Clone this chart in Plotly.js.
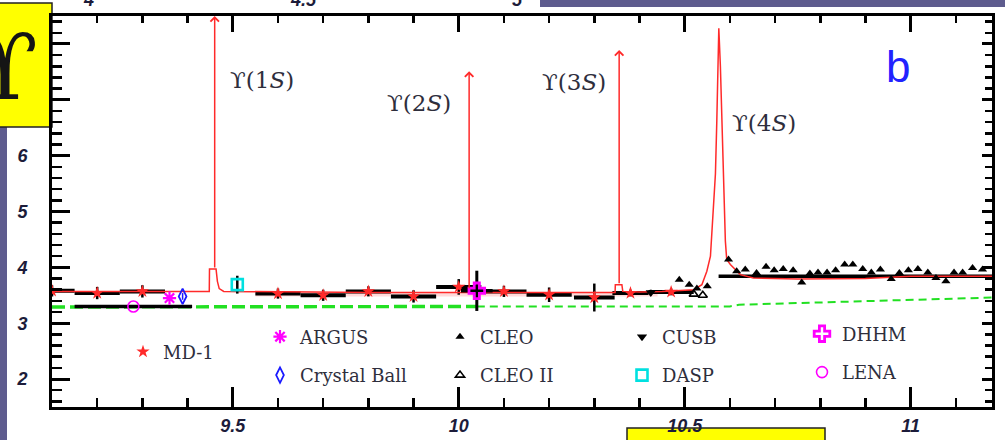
<!DOCTYPE html>
<html>
<head>
<meta charset="utf-8">
<script src="https://cdn.plot.ly/plotly-3.0.1.min.js"></script>
<style>
  html, body { margin: 0; padding: 0; background: #ffffff; }
  #chart { width: 1005px; height: 440px; }
</style>
</head>
<body>
<div id="chart"></div>
<script>
// R = sigma(e+e- -> hadrons) / sigma(mu+mu-) around the Upsilon region, sqrt(s) in GeV

// theory curve (red)
const theoryE = [9.10, 9.30, 9.44, 9.448, 9.4485, 9.463, 9.466, 9.470, 9.48, 9.60, 9.80, 10.00, 10.10, 10.30,
  10.346, 10.3465, 10.361, 10.363, 10.40, 10.45, 10.49, 10.52, 10.538, 10.549, 10.557, 10.564, 10.568, 10.571,
  10.5755, 10.579, 10.583, 10.586, 10.590, 10.593, 10.601, 10.623, 10.652, 10.75, 10.90, 11.00, 11.18];
const theoryR = [3.57, 3.57, 3.57, 3.57, 3.97, 3.97, 3.75, 3.62, 3.57, 3.56, 3.55, 3.55, 3.55, 3.55,
  3.55, 3.69, 3.69, 3.57, 3.56, 3.57, 3.58, 3.60, 3.69, 3.93, 4.20, 5.07, 5.67, 6.60,
  8.28, 7.60, 6.30, 5.37, 4.47, 4.14, 4.05, 3.87, 3.81, 3.79, 3.80, 3.84, 3.84];

// narrow resonances drawn as arrows
const upsilonMass = [9.460, 10.023, 10.355];
const upsilonBaseR = [3.97, 3.60, 3.69];
const upsilonTipR = [8.5, 7.51, 7.89];

// perturbative QCD (green dashed)
const pqcdE1 = [9.10, 10.04];
const pqcdR1 = [3.29, 3.30];
const pqcdE2 = [10.04, 10.60, 10.62, 10.90, 11.18];
const pqcdR2 = [3.30, 3.30, 3.33, 3.40, 3.46];

// theory band between 1S and 4S
const bandE = [9.55, 10.44];
const bandLo = [3.48, 3.48];
const bandHi = [3.55, 3.55];

// MD-1 scan points with bin half-widths
const md1E = [9.10, 9.20, 9.30, 9.60, 9.70, 9.80, 9.90, 10.00, 10.10, 10.20, 10.30, 10.38, 10.47];
const md1R = [3.58, 3.54, 3.57, 3.53, 3.50, 3.57, 3.48, 3.65, 3.57, 3.51, 3.46, 3.54, 3.56];
const md1Err = [0.10, 0.11, 0.11, 0.09, 0.10, 0.09, 0.11, 0.14, 0.10, 0.13, 0.25, 0.06, 0.06];
const md1Half = [0.05, 0.05, 0.05, 0.05, 0.05, 0.05, 0.05, 0.05, 0.05, 0.05, 0.045, 0.04, 0.05];

const argusE = [9.36];
const argusR = [3.45];
const cbE = [9.389];
const cbR = [3.48];
const cbErr = [0.06];
const lenaE = [9.28];
const lenaR = [3.30];
const lenaHalf = [0.13];
const daspE = [9.51];
const daspR = [3.69];
const daspErr = [0.16];
const dhhmE = [10.04];
const dhhmR = [3.58];
const dhhmErr = [0.36];
const dhhmHalf = [0.035];
const cusbE = [10.425];
const cusbR = [3.55];
const cusbErr = [0.05];
const cleo2E = [10.52, 10.54];
const cleo2R = [3.52, 3.50];
const cleoE = [10.488, 10.51, 10.527, 10.55, 10.597, 10.615, 10.634, 10.659, 10.680, 10.698, 10.718, 10.740,
  10.759, 10.777, 10.795, 10.815, 10.834, 10.854, 10.872, 10.894, 10.913, 10.933, 10.957, 10.975, 10.995,
  11.016, 11.038, 11.056, 11.078, 11.096, 11.115, 11.137, 11.159];
const cleoR = [3.78, 3.69, 3.62, 3.66, 4.14, 3.93, 3.96, 3.90, 4.01, 3.95, 3.97, 3.95,
  3.73, 3.89, 3.91, 3.91, 3.95, 4.05, 4.05, 3.97, 3.91, 3.96, 3.79, 3.90, 3.95,
  3.97, 3.91, 3.81, 3.75, 3.91, 3.91, 3.99, 3.96];
// continuum level above the 4S
const contE = [10.575, 11.18];
const contR = [3.84, 3.84];

const xRange = [9.1, 11.18];
const yRange = [1.5, 8.5];

// pixel helpers for decorations around the frame
const L = 52, T = 16, W = 940, H = 391;
const px = p => (p - L) / W;
const py = p => (T + H - p) / H;

const RED = '#ff2a2a';
const GREEN = '#22e022';
const MAG = '#ff00ff';
const TXT = '#2e2e3c';

const traces = [
  { x: pqcdE1, y: pqcdR1, mode: 'lines', line: { color: GREEN, width: 3.4, dash: '13px,5px' }, showlegend: false, hoverinfo: 'skip' },
  { x: pqcdE2, y: pqcdR2, mode: 'lines', line: { color: GREEN, width: 2, dash: '8px,5px' }, showlegend: false, hoverinfo: 'skip' },
  { x: bandE, y: bandLo, mode: 'lines', line: { width: 0 }, showlegend: false, hoverinfo: 'skip' },
  { x: bandE, y: bandHi, mode: 'lines', line: { width: 0 }, fill: 'tonexty', fillcolor: 'rgba(255,90,90,0.22)', showlegend: false, hoverinfo: 'skip' },
  { x: contE, y: contR, mode: 'lines', line: { color: '#000', width: 3.5 }, showlegend: false, hoverinfo: 'skip' },
  { x: lenaE, y: lenaR, mode: 'markers', name: 'LENA', legend: 'legend5', legendgroup: 'lena', legendrank: 2,
    marker: { symbol: 'circle-open', size: 11, color: MAG, line: { color: MAG, width: 1.6 } },
    error_x: { type: 'data', array: lenaHalf, color: '#000', thickness: 3.5, width: 0 } },
  { x: md1E, y: md1R, mode: 'markers', name: 'MD-1', legend: 'legend', legendgroup: 'md1',
    marker: { symbol: 'star', size: 10, color: RED },
    error_x: { type: 'data', array: md1Half, color: '#000', thickness: 4, width: 0 },
    error_y: { type: 'data', array: md1Err, color: '#000', thickness: 2.5, width: 0 } },
  { x: theoryE, y: theoryR, mode: 'lines', line: { color: RED, width: 1.5 }, showlegend: false, hoverinfo: 'skip' },
  { x: argusE, y: argusR, mode: 'markers', name: 'ARGUS', legend: 'legend2', legendgroup: 'argus', legendrank: 1,
    marker: { symbol: 'asterisk-open', size: 11, color: MAG, line: { color: MAG, width: 2.2 } } },
  { x: cbE, y: cbR, mode: 'markers', name: 'Crystal Ball', legend: 'legend2', legendgroup: 'cb', legendrank: 2,
    marker: { symbol: 'diamond-tall-open', size: 11, color: '#1a1aff', line: { color: '#1a1aff', width: 1.8 } },
    error_y: { type: 'data', array: cbErr, color: '#1a1aff', thickness: 1.5, width: 0 } },
  { x: cleoE, y: cleoR, mode: 'markers', name: 'CLEO', legend: 'legend3', legendgroup: 'cleo', legendrank: 1,
    marker: { symbol: 'triangle-up', size: 8, color: '#000' } },
  { x: cleo2E, y: cleo2R, mode: 'markers', name: 'CLEO II', legend: 'legend3', legendgroup: 'cleo2', legendrank: 2,
    marker: { symbol: 'triangle-up-open', size: 8, color: '#000', line: { color: '#000', width: 1.6 } } },
  { x: cusbE, y: cusbR, mode: 'markers', name: 'CUSB', legend: 'legend4', legendgroup: 'cusb', legendrank: 1,
    marker: { symbol: 'triangle-down', size: 9, color: '#000' },
    error_y: { type: 'data', array: cusbErr, color: '#000', thickness: 2, width: 0 } },
  { x: daspE, y: daspR, mode: 'markers', name: 'DASP', legend: 'legend4', legendgroup: 'dasp', legendrank: 2,
    marker: { symbol: 'square-open', size: 11, color: '#00e0e0', line: { color: '#00e0e0', width: 2.6 } },
    error_y: { type: 'data', array: daspErr, color: '#000', thickness: 2.5, width: 0 } },
  { x: dhhmE, y: dhhmR, mode: 'markers', name: 'DHHM', legend: 'legend5', legendgroup: 'dhhm', legendrank: 1,
    marker: { symbol: 'cross-open', size: 13, color: MAG, line: { color: MAG, width: 2.8 } },
    error_x: { type: 'data', array: dhhmHalf, color: '#000', thickness: 3.5, width: 0 },
    error_y: { type: 'data', array: dhhmErr, color: '#000', thickness: 3, width: 0 } },
  // carries the mirrored top / right axes
  { x: [], y: [], xaxis: 'x2', yaxis: 'y2', showlegend: false, hoverinfo: 'skip' }
];

const tickFont = { family: 'Liberation Sans, Arial, sans-serif', size: 18, weight: 'bold', style: 'italic', color: '#1c1c3a' };
const legFont = { family: 'DejaVu Serif, serif', size: 18, color: TXT };
const labFont = { family: 'DejaVu Serif, serif', size: 23, color: TXT };

function legendAt(xp, yp) {
  return { x: px(xp), y: py(yp), xanchor: 'left', yanchor: 'middle', bgcolor: 'rgba(0,0,0,0)',
    font: legFont, tracegroupgap: 12, itemwidth: 30, orientation: 'v', traceorder: 'grouped' };
}

const annotations = [];
upsilonMass.forEach((m, i) => {
  annotations.push({ x: m, y: upsilonTipR[i], ax: m, ay: upsilonBaseR[i], xref: 'x', yref: 'y', axref: 'x', ayref: 'y',
    showarrow: true, arrowhead: 4, arrowsize: 1.1, arrowwidth: 1.5, arrowcolor: RED, text: '' });
});
const peakLabels = [
  { t: 'ϒ(1<i>S</i>)', x: 228, y: 80 },
  { t: 'ϒ(2<i>S</i>)', x: 385, y: 103 },
  { t: 'ϒ(3<i>S</i>)', x: 540, y: 82 },
  { t: 'ϒ(4<i>S</i>)', x: 730, y: 123 }
];
peakLabels.forEach(p => annotations.push({ text: p.t, x: px(p.x), y: py(p.y), xref: 'paper', yref: 'paper',
  xanchor: 'left', yanchor: 'middle', showarrow: false, font: labFont }));
annotations.push({ text: 'b', x: px(898), y: py(66), xref: 'paper', yref: 'paper', xanchor: 'center', yanchor: 'middle',
  showarrow: false, font: { family: 'Liberation Sans, Arial, sans-serif', size: 44, color: '#2222ff' } });
// large Upsilon symbol in the corner box
annotations.push({ text: 'ϒ', x: px(6), y: py(67), xref: 'paper', yref: 'paper', xanchor: 'center', yanchor: 'middle',
  showarrow: false, font: { family: 'DejaVu Serif, serif', size: 92, color: '#151515' } });
// labels of the panel above, cut by the frame edge
[['4', 88], ['4.5', 303], ['5', 517]].forEach(a => annotations.push({ text: a[0], x: px(a[1]), y: py(12),
  xref: 'paper', yref: 'paper', xanchor: 'center', yanchor: 'bottom', showarrow: false, font: tickFont }));

const shapes = [
  { type: 'rect', xref: 'paper', yref: 'paper', x0: px(0), x1: px(7), y0: py(127), y1: py(445), layer: 'below',
    fillcolor: '#5e5c8e', line: { width: 0 } },
  { type: 'rect', xref: 'paper', yref: 'paper', x0: px(540), x1: px(1010), y0: py(7), y1: py(-5), layer: 'below',
    fillcolor: '#5e5c8e', line: { width: 0 } },
  { type: 'rect', xref: 'paper', yref: 'paper', x0: px(-2), x1: px(52), y0: py(127), y1: py(3), layer: 'below',
    fillcolor: '#ffff00', line: { color: '#222', width: 1.5 } },
  { type: 'rect', xref: 'paper', yref: 'paper', x0: px(627), x1: px(825), y0: py(445), y1: py(428), layer: 'below',
    fillcolor: '#ffff00', line: { color: '#222', width: 1.5 } }
];

const baseX = { range: xRange, showgrid: false, zeroline: false, showline: true, linecolor: '#000', linewidth: 3,
  tickmode: 'linear', tick0: 9.5, dtick: 0.5, ticks: 'inside', tickcolor: '#000', tickwidth: 3 };
const baseY = { range: yRange, showgrid: false, zeroline: false, showline: true, linecolor: '#000', linewidth: 3,
  tickmode: 'linear', tick0: 2, dtick: 1, ticks: 'inside', tickcolor: '#000', tickwidth: 3 };

const layout = {
  width: 1005, height: 440,
  margin: { l: L, r: 1005 - L - W, t: T, b: 440 - T - H, pad: 0 },
  paper_bgcolor: '#ffffff', plot_bgcolor: 'rgba(0,0,0,0)',
  xaxis: Object.assign({}, baseX, { ticklen: 20, tickfont: tickFont, ticklabelstandoff: 0,
    minor: { dtick: 0.1, tick0: 9.5, ticks: 'inside', ticklen: 9, tickwidth: 2.5, tickcolor: '#000' } }),
  xaxis2: Object.assign({}, baseX, { overlaying: 'x', side: 'top', anchor: 'y', ticklen: 16, showticklabels: false,
    minor: { dtick: 0.1, tick0: 9.5, ticks: 'inside', ticklen: 7, tickwidth: 2.5, tickcolor: '#000' } }),
  yaxis: Object.assign({}, baseY, { ticklen: 18, tickfont: tickFont, ticklabelstandoff: 18, labelalias: { '7': ' ', '8': ' ' },
    minor: { dtick: 0.2, tick0: 2, ticks: 'inside', ticklen: 10, tickwidth: 2.5, tickcolor: '#000' } }),
  yaxis2: Object.assign({}, baseY, { overlaying: 'y', side: 'right', anchor: 'x', ticklen: 10, showticklabels: false,
    minor: { dtick: 0.2, tick0: 2, ticks: 'inside', ticklen: 7, tickwidth: 2.5, tickcolor: '#000' } }),
  showlegend: true,
  legend: legendAt(123, 352),
  legend2: legendAt(260, 356),
  legend3: legendAt(440, 356),
  legend4: legendAt(622, 356),
  legend5: legendAt(802, 353),
  annotations: annotations,
  shapes: shapes
};

Plotly.newPlot('chart', traces, layout, { staticPlot: true, displayModeBar: false });
</script>
</body>
</html>
